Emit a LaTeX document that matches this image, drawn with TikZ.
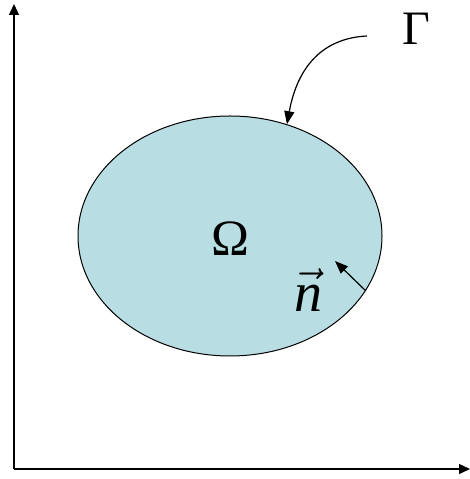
\RequirePackage{fix-cm}
\documentclass[tikz,border=0pt]{standalone}
\usepackage{fontspec}
\setmainfont{Liberation Serif}
\usetikzlibrary{arrows.meta,shapes.geometric}
\definecolor{domainfill}{RGB}{184,222,228}
\tikzset{
	axis/.style={line width=1.4pt, -{Triangle[length=11pt,width=10pt]}},
	pointer/.style={line width=1.2pt, -{Triangle[length=13pt,width=10pt]}},
	bigsym/.style={inner sep=0pt, font=\fontsize{48}{48}\selectfont}
}
\begin{document}
	\begin{tikzpicture}[x=1pt,y=1pt]
		\useasboundingbox (0,0) rectangle (470,479);
		% axes
		\coordinate (origin) at (14,10);
		\coordinate (ytip) at (14,475);
		\coordinate (xtip) at (470,10);
		\draw[axis] (origin) -- (ytip);
		\draw[axis] (origin) -- (xtip);
		% domain
		\node[ellipse, draw, line width=1pt, fill=domainfill, minimum width=304pt, minimum height=240pt, inner sep=0pt] (domain) at (230,243) {};
		\node[bigsym, font=\fontsize{51}{51}\selectfont] (omega) at (230,240) {Ω};
		% boundary label
		\node[bigsym] (gamma) at (416,450) {Γ};
		\coordinate (gstart) at (367,443);
		\draw[pointer] (gstart) .. controls (325,441) and (298,415) .. (domain.63);
		% normal
		\node[bigsym, font=\fontsize{56}{56}\selectfont] (nvec) at (308,189) {$\vec{\textit{n}}$};
		\draw[pointer] (domain.-22) -- (335,218);
	\end{tikzpicture}
\end{document}
